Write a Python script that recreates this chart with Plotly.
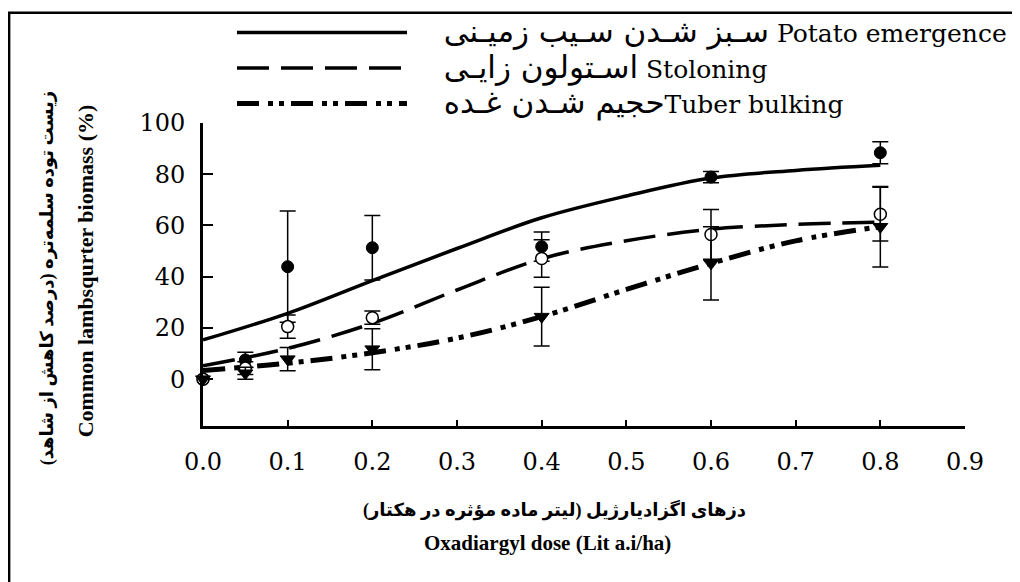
import plotly.graph_objects as go

# ---- data ----
doses = [0, 0.05, 0.1, 0.2, 0.4, 0.6, 0.8]
emergence = [0, 7.5, 43.9, 51.3, 51.7, 78.9, 88.4]
emergence_err = [0, 3.0, 21.7, 12.6, 5.7, 2.2, 4.3]
stolon = [0, 4.3, 20.5, 24.0, 47.1, 56.5, 64.4]
stolon_err = [0, 2.5, 4.5, 2.6, 7.3, 9.7, 10.5]
tuber = [0, 2.3, 7.8, 11.7, 24.4, 45.2, 59.5]
tuber_err = [0, 2.3, 4.5, 8.0, 11.5, 14.3, 15.7]

fit_x = [0, 0.1, 0.2, 0.3, 0.4, 0.5, 0.6, 0.7, 0.8]
fit_emergence = [15.3, 25.7, 38.5, 51.0, 63.0, 71.5, 78.5, 81.5, 83.5]
fit_stolon = [5.2, 12.0, 21.8, 34.8, 47.0, 54.0, 58.5, 60.4, 61.3]
fit_tuber = [3.4, 6.2, 10.3, 16.0, 24.4, 35.0, 45.2, 54.0, 59.5]

legend_fa = ["سـبز شـدن سـیب زمیـنی", "اسـتولون زایـی", "حجیم شـدن غـده"]
legend_en = ["Potato emergence", "Stoloning", "Tuber bulking"]
legend_sep = [" ", " ", ""]
x_ticks = [0.0, 0.1, 0.2, 0.3, 0.4, 0.5, 0.6, 0.7, 0.8, 0.9]
y_ticks = [0, 20, 40, 60, 80, 100]

y_title_fa = "زیست توده سلمه\u200cتره (درصد کاهش از شاهد)\u200f"
y_title_en = "Common lambsqurter biomass (%)"
x_title_fa = "دزهای اگزادیارژیل (لیتر ماده مؤثره در هکتار)\u200f"
x_title_en = "Oxadiargyl dose (Lit a.i/ha)"

SERIF = "DejaVu Serif, DejaVu Sans, serif"
BOLD = "Liberation Serif, DejaVu Sans, serif"

fig = go.Figure()

# fitted curves (legend entries)
curve_styles = [
    (fit_emergence, "solid", 3.5),
    (fit_stolon, "32px,12px", 3.5),
    (fit_tuber, "22px,9px,5px,6px,5px,7px", 5),
]
PAD = "\u00a0" * 4
for i, (vals, dash, w) in enumerate(curve_styles):
    name = (f"{PAD}<span style='font-size:31px'>{legend_fa[i]}</span>"
            f"{legend_sep[i]}{legend_en[i]}")
    fig.add_trace(go.Scatter(
        x=fit_x, y=vals, mode="lines", name=name,
        line=dict(color="black", width=w, dash=dash, shape="spline", smoothing=1.0),
        legendgroup=f"g{i}", hoverinfo="skip",
    ))

# observed means with error bars
obs = [
    (emergence, emergence_err, dict(symbol="circle", size=12, color="black",
                                    line=dict(color="black", width=1))),
    (stolon, stolon_err, dict(symbol="circle", size=12, color="white",
                              line=dict(color="black", width=1.5))),
    (tuber, tuber_err, dict(symbol="triangle-down", size=13, color="black",
                            line=dict(color="black", width=1))),
]
for vals, errs, mk in obs:
    fig.add_trace(go.Scatter(
        x=doses, y=vals, mode="markers", marker=mk, showlegend=False,
        error_y=dict(type="data", array=errs, visible=True, color="black",
                     thickness=1.5, width=8),
        cliponaxis=False,
    ))

# page body has an 8px margin: work in reference-pixel coordinates minus 8
OFF = 8
FW, FH = 1020 - OFF, 582 - OFF
W_L = 203 - OFF
W_T = 122.5 - OFF
W_R = FW - (965.5 - OFF)
W_B = FH - (426 - OFF)
pw = FW - W_L - W_R
ph = FH - W_T - W_B

def px(xp):
    return (xp - OFF - W_L) / pw

def py(yp):
    return (FH - W_B - (yp - OFF)) / ph

fig.update_layout(
    width=FW, height=FH,
    margin=dict(l=W_L, r=W_R, t=W_T, b=W_B, autoexpand=False),
    paper_bgcolor="white", plot_bgcolor="white",
    showlegend=True,
    legend=dict(
        x=px(232), y=py(9), xanchor="left", yanchor="top",
        font=dict(family=SERIF, size=25, color="black"),
        itemwidth=170, tracegroupgap=0, bgcolor="rgba(0,0,0,0)",
        itemclick=False, itemdoubleclick=False,
    ),
    xaxis=dict(
        range=[0, 0.9], tickvals=x_ticks, ticktext=[f"{v:.1f}" for v in x_ticks],
        showline=True, linecolor="black", linewidth=3,
        ticks="inside", ticklen=6, tickwidth=1.5, tickcolor="black",
        showgrid=False, zeroline=False, ticklabelstandoff=12,
        tickfont=dict(family=SERIF, size=24, color="black"),
    ),
    yaxis=dict(
        range=[-18.3, 100], tickvals=y_ticks,
        showline=True, linecolor="black", linewidth=3,
        ticks="inside", ticklen=10, tickwidth=1.5, tickcolor="black",
        showgrid=False, zeroline=False, ticklabelstandoff=10,
        tickfont=dict(family=SERIF, size=24, color="black"),
    ),
    annotations=[
        dict(text=f"<b>{y_title_fa}</b>", xref="paper", yref="paper",
             x=px(47), y=py(278), xanchor="center", yanchor="middle",
             textangle=-90, showarrow=False,
             font=dict(family=BOLD, size=18, color="black")),
        dict(text=f"<b>{y_title_en}</b>", xref="paper", yref="paper",
             x=px(85), y=py(271), xanchor="center", yanchor="middle",
             textangle=-90, showarrow=False,
             font=dict(family=BOLD, size=22, color="black")),
        dict(text=f"<b>{x_title_fa}</b>", xref="paper", yref="paper",
             x=px(555), y=py(510), xanchor="center", yanchor="middle",
             showarrow=False,
             font=dict(family=BOLD, size=18, color="black")),
        dict(text=f"<b>{x_title_en}</b>", xref="paper", yref="paper",
             x=px(548), y=py(543), xanchor="center", yanchor="middle",
             showarrow=False,
             font=dict(family=BOLD, size=21, color="black")),
    ],
    shapes=[
        dict(type="rect", xref="paper", yref="paper",
             x0=px(9), x1=px(1300), y0=py(900), y1=py(12),
             line=dict(color="black", width=2.5), fillcolor="rgba(0,0,0,0)",
             layer="below"),
    ],
)

fig.write_html("out.html")
